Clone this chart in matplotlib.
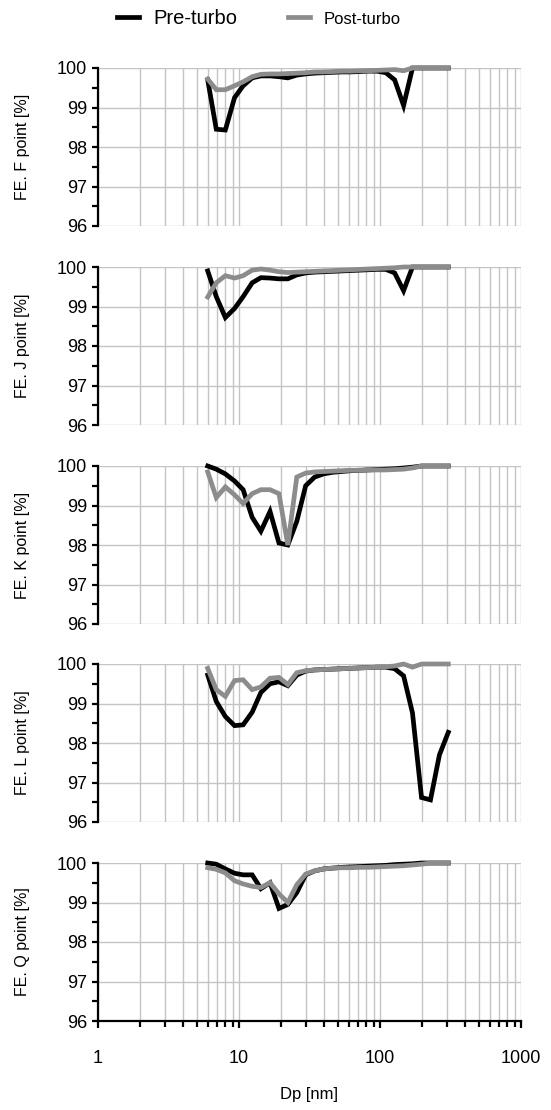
import matplotlib
matplotlib.use("Agg")
import matplotlib.pyplot as plt
from matplotlib.lines import Line2D
from matplotlib.ticker import FixedLocator, FuncFormatter, LogLocator, NullFormatter

plt.rcParams["font.family"] = ["Liberation Sans", "DejaVu Sans"]

# particle diameter channels [nm]
DP_NM = [6.0, 6.9, 8.0, 9.3, 10.7, 12.4, 14.3, 16.6, 19.2, 22.2, 25.7, 29.7, 34.4, 39.8,
         46.0, 53.2, 61.5, 71.2, 82.3, 95.2, 110, 127, 147, 170, 197, 228, 264, 305]

PANEL_LABELS = ["FE. F point [%]", "FE. J point [%]", "FE. K point [%]",
                "FE. L point [%]", "FE. Q point [%]"]

F_PRE = [99.70, 98.45, 98.43, 99.25, 99.55, 99.75, 99.80, 99.80, 99.78, 99.75, 99.82, 99.85,
         99.87, 99.88, 99.89, 99.90, 99.90, 99.91, 99.92, 99.92, 99.88, 99.70, 99.05, 100,
         100, 100, 100, 100]
F_POST = [99.72, 99.45, 99.45, 99.55, 99.65, 99.78, 99.84, 99.85, 99.85, 99.86, 99.87, 99.88,
          99.90, 99.90, 99.91, 99.92, 99.92, 99.93, 99.93, 99.94, 99.95, 99.96, 99.93, 100,
          100, 100, 100, 100]

J_PRE = [99.90, 99.25, 98.72, 98.95, 99.25, 99.60, 99.73, 99.72, 99.70, 99.70, 99.80, 99.85,
         99.87, 99.88, 99.89, 99.90, 99.91, 99.92, 99.93, 99.94, 99.94, 99.85, 99.40, 100,
         100, 100, 100, 100]
J_POST = [99.24, 99.60, 99.78, 99.72, 99.78, 99.92, 99.95, 99.92, 99.88, 99.86, 99.87, 99.88,
          99.89, 99.90, 99.91, 99.92, 99.93, 99.94, 99.95, 99.96, 99.97, 99.98, 100, 100,
          100, 100, 100, 100]

K_PRE = [100.0, 99.92, 99.80, 99.62, 99.40, 98.70, 98.35, 98.85, 98.05, 98.00, 98.60, 99.50,
         99.72, 99.80, 99.84, 99.86, 99.88, 99.89, 99.90, 99.91, 99.92, 99.93, 99.95, 99.97,
         100, 100, 100, 100]
K_POST = [99.85, 99.20, 99.47, 99.27, 99.05, 99.30, 99.40, 99.40, 99.30, 98.00, 99.72, 99.82,
          99.85, 99.86, 99.87, 99.88, 99.89, 99.89, 99.90, 99.90, 99.90, 99.91, 99.92, 99.95,
          100, 100, 100, 100]

L_PRE = [99.72, 99.05, 98.67, 98.44, 98.46, 98.78, 99.28, 99.50, 99.55, 99.45, 99.72, 99.82,
         99.85, 99.86, 99.87, 99.88, 99.89, 99.90, 99.91, 99.92, 99.92, 99.88, 99.70, 98.76,
         96.62, 96.56, 97.70, 98.27]
L_POST = [99.89, 99.35, 99.18, 99.58, 99.60, 99.35, 99.42, 99.64, 99.66, 99.48, 99.78, 99.83,
          99.85, 99.86, 99.87, 99.88, 99.89, 99.90, 99.91, 99.92, 99.93, 99.95, 100.0, 99.92,
          100, 100, 100, 100]

Q_PRE = [100.0, 99.97, 99.85, 99.74, 99.70, 99.70, 99.35, 99.50, 98.85, 98.95, 99.25, 99.70,
         99.80, 99.85, 99.87, 99.89, 99.90, 99.91, 99.92, 99.93, 99.94, 99.96, 99.97, 99.98,
         100, 100, 100, 100]
Q_POST = [99.88, 99.84, 99.75, 99.55, 99.47, 99.41, 99.38, 99.50, 99.22, 99.00, 99.45, 99.72,
          99.80, 99.85, 99.87, 99.88, 99.88, 99.89, 99.89, 99.90, 99.91, 99.92, 99.93, 99.95,
          99.97, 100, 100, 100]

PRE = [F_PRE, J_PRE, K_PRE, L_PRE, Q_PRE]
POST = [F_POST, J_POST, K_POST, L_POST, Q_POST]

PRE_COLOR = "black"
POST_COLOR = "#8c8c8c"
GRID_COLOR = "#c4c4c4"

fig = plt.figure(figsize=(5.51, 11.1), dpi=100)
W, H = 551, 1110
left, right = 98, 521
panel_tops = [68, 267, 466, 664, 863]
panel_h = 158

for i, top in enumerate(panel_tops):
    ax = fig.add_axes([left / W, 1 - (top + panel_h) / H, (right - left) / W, panel_h / H])
    ax.set_xscale("log")
    ax.set_xlim(1, 1000)
    ax.set_ylim(96, 100)
    ax.plot(DP_NM, PRE[i], color=PRE_COLOR, lw=3.4, clip_on=False, zorder=3,
            solid_joinstyle="miter")
    ax.plot(DP_NM, POST[i], color=POST_COLOR, lw=3.4, clip_on=False, zorder=4,
            solid_joinstyle="miter")

    ax.xaxis.set_major_locator(LogLocator(base=10, numticks=10))
    ax.xaxis.set_minor_locator(LogLocator(base=10, subs=range(2, 10), numticks=10))
    ax.xaxis.set_minor_formatter(NullFormatter())
    ax.yaxis.set_major_locator(FixedLocator([96, 97, 98, 99, 100]))
    ax.yaxis.set_minor_locator(FixedLocator([96.5, 97.5, 98.5, 99.5]))

    ax.grid(True, which="both", axis="x", color=GRID_COLOR, lw=1.0)
    ax.grid(True, which="major", axis="y", color=GRID_COLOR, lw=1.0)
    ax.set_axisbelow(True)

    for side in ("top", "right"):
        ax.spines[side].set_visible(False)
    ax.spines["left"].set_linewidth(1.6)
    ax.tick_params(axis="y", which="major", labelsize=13, width=1.6, length=4, pad=4)
    ax.tick_params(axis="y", which="minor", width=1.6, length=4)
    ax.set_ylabel(PANEL_LABELS[i], fontsize=11.5, labelpad=19)

    if i == len(panel_tops) - 1:
        ax.spines["bottom"].set_linewidth(1.6)
        ax.tick_params(axis="x", which="major", labelsize=13, width=1.6, length=5, pad=16)
        ax.tick_params(axis="x", which="minor", width=1.6, length=4)
        ax.xaxis.set_major_formatter(FuncFormatter(lambda v, p: f"{v:g}"))
        ax.set_xlabel("Dp [nm]", fontsize=12, labelpad=14)
    else:
        ax.spines["bottom"].set_visible(False)
        ax.tick_params(axis="x", which="both", length=0, labelbottom=False)

handles = [Line2D([], [], color=PRE_COLOR, lw=3.4), Line2D([], [], color=POST_COLOR, lw=3.4)]
leg = fig.legend(handles, ["Pre-turbo", "Post-turbo"], loc="upper center",
                 bbox_to_anchor=(0.47, 1.008), ncol=2, frameon=False, handlelength=1.1,
                 columnspacing=2.5, handletextpad=0.7, fontsize=14.5)
leg.get_texts()[1].set_fontsize(12)

fig.savefig("out.png", dpi=100)
